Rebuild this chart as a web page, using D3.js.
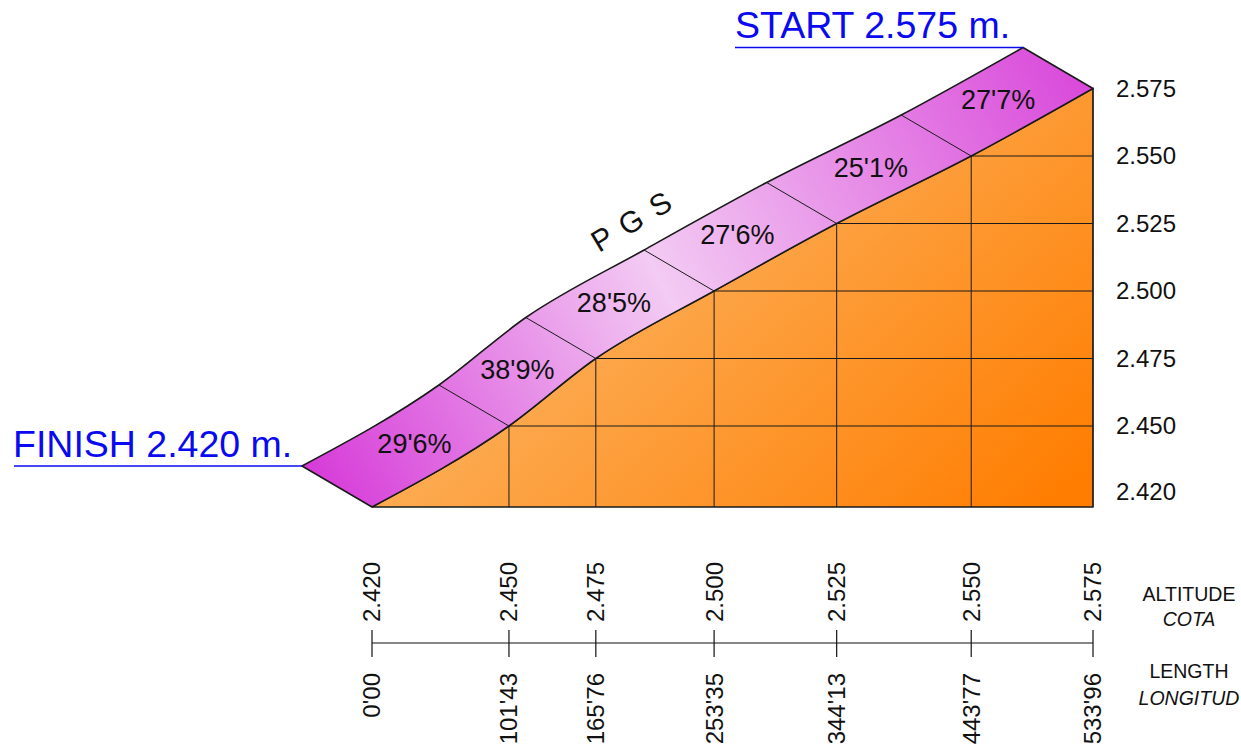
<!DOCTYPE html>
<html>
  <head>
    <meta charset="utf-8">
    <title>PGS slope profile</title>
    <style>
      body { margin: 0; background: #fff; }
      svg { font-family: "Liberation Sans", Arial, sans-serif; }
      .grid { stroke: #1a1a1a; stroke-width: 1px; }
      .blue { fill: #0a0af0; }
    </style>
  </head>
  <body>
    <svg width="1241" height="747"></svg>

    <script src="https://d3js.org/d3.v7.min.js"></script>
    <script>
      // Profile data
      const distances = [0, 101.43, 165.76, 253.35, 344.13, 443.77, 533.96];
      const altitudes = [2420, 2450, 2475, 2500, 2525, 2550, 2575];
      const distLabels = ["0'00", "101'43", "165'76", "253'35", "344'13", "443'77", "533'96"];
      const altLabels = ["2.420", "2.450", "2.475", "2.500", "2.525", "2.550", "2.575"];
      const gradeLabels = ["29'6%", "38'9%", "28'5%", "27'6%", "25'1%", "27'7%"];

      const svg = d3.select('svg');

      const x = d3.scaleLinear().domain([0, 533.96]).range([372, 1093]);
      const y = d3.scaleLinear().domain([2420, 2575]).range([507, 88.5]);

      // offset of the ribbon's upper edge (fake 3d depth)
      const dx = -70, dy = -41;

      const pts = distances.map((d, i) => [x(d), y(altitudes[i])]);
      const base = y(altitudes[0]);

      // gradients
      const defs = svg.append('defs');
      const og = defs.append('linearGradient').attr('id', 'orange')
        .attr('gradientUnits', 'userSpaceOnUse')
        .attr('x1', 560).attr('y1', 80).attr('x2', 1000).attr('y2', 560);
      og.append('stop').attr('offset', '0%').attr('stop-color', '#fbbd72');
      og.append('stop').attr('offset', '100%').attr('stop-color', '#ff7d00');

      const mg = defs.append('linearGradient').attr('id', 'pink')
        .attr('gradientUnits', 'userSpaceOnUse')
        .attr('x1', 302).attr('y1', 466).attr('x2', 1093).attr('y2', 47);
      mg.append('stop').attr('offset', '0%').attr('stop-color', '#d63ad8');
      mg.append('stop').attr('offset', '45%').attr('stop-color', '#f3cbf3');
      mg.append('stop').attr('offset', '100%').attr('stop-color', '#d843d9');

      const curve = d3.curveMonotoneX;

      // orange ground under the profile
      const area = d3.area().x(p => p[0]).y0(base).y1(p => p[1]).curve(curve);
      svg.append('path')
        .attr('d', area(pts))
        .attr('fill', 'url(#orange)')
        .attr('stroke', '#1a1a1a')
        .attr('stroke-width', 1.4);

      // grid inside the ground
      pts.forEach((p, i) => {
        if (i === 0) return;
        svg.append('line').attr('class', 'grid')
          .attr('x1', p[0]).attr('x2', p[0]).attr('y1', p[1]).attr('y2', base);
        svg.append('line').attr('class', 'grid')
          .attr('x1', p[0]).attr('x2', x(distances[distances.length - 1])).attr('y1', p[1]).attr('y2', p[1]);
      });

      // ribbon on top of profile
      const line = d3.line().curve(curve);
      const upper = pts.map(p => [p[0] + dx, p[1] + dy]).reverse();
      const ribbonD = line(pts) + 'L' + line(upper).slice(1) + 'Z';
      svg.append('path')
        .attr('d', ribbonD)
        .attr('fill', 'url(#pink)')
        .attr('stroke', '#1a1a1a')
        .attr('stroke-width', 1.6)
        .attr('stroke-linejoin', 'round');

      // segment dividers
      pts.slice(1, -1).forEach(p => {
        svg.append('line').attr('class', 'grid')
          .attr('x1', p[0]).attr('y1', p[1]).attr('x2', p[0] + dx).attr('y2', p[1] + dy);
      });

      // grade labels
      const nudge = [9, 0, -6, -3, 2, 1];
      gradeLabels.forEach((g, i) => {
        const cx = (pts[i][0] + pts[i + 1][0]) / 2 + dx / 2 + nudge[i];
        const cy = (pts[i][1] + pts[i + 1][1]) / 2 + dy / 2 - 2;
        svg.append('text')
          .attr('x', cx).attr('y', cy)
          .attr('dy', '0.35em')
          .attr('text-anchor', 'middle')
          .attr('font-size', 27)
          .attr('fill', '#111')
          .text(g);
      });

      // slope name
      svg.append('text')
        .attr('transform', 'translate(632,221) rotate(-31)')
        .attr('text-anchor', 'middle')
        .attr('dy', '0.35em')
        .attr('font-size', 30)
        .attr('letter-spacing', 2)
        .attr('fill', '#111')
        .text('P G S');

      // finish / start labels
      svg.append('text').attr('class', 'blue')
        .attr('x', 13).attr('y', 457).attr('font-size', 37.5)
        .text('FINISH 2.420 m.');
      svg.append('line')
        .attr('x1', 14).attr('x2', pts[0][0] + dx).attr('y1', pts[0][1] + dy).attr('y2', pts[0][1] + dy)
        .attr('stroke', '#0a0af0').attr('stroke-width', 1.5);

      const last = pts[pts.length - 1];
      svg.append('text').attr('class', 'blue')
        .attr('x', 735).attr('y', 38).attr('font-size', 37.5)
        .text('START 2.575 m.');
      svg.append('line')
        .attr('x1', 735).attr('x2', last[0] + dx).attr('y1', last[1] + dy).attr('y2', last[1] + dy)
        .attr('stroke', '#0a0af0').attr('stroke-width', 1.5);

      // right altitude labels
      altitudes.forEach((a, i) => {
        svg.append('text')
          .attr('x', 1116)
          .attr('y', y(a) - (i === 0 ? 15 : 0))
          .attr('dy', '0.35em')
          .attr('font-size', 24)
          .attr('fill', '#111')
          .text(altLabels[i]);
      });

      // bottom scale
      const axisY = 643;
      svg.append('line')
        .attr('x1', x(0)).attr('x2', x(533.96)).attr('y1', axisY).attr('y2', axisY)
        .attr('stroke', '#111').attr('stroke-width', 1.2);

      distances.forEach((d, i) => {
        const tx = x(d);
        svg.append('line')
          .attr('x1', tx).attr('x2', tx).attr('y1', axisY - 13).attr('y2', axisY + 14)
          .attr('stroke', '#111').attr('stroke-width', 1.2);
        svg.append('text')
          .attr('transform', `translate(${tx},622) rotate(-90)`)
          .attr('dy', '0.35em')
          .attr('font-size', 24)
          .attr('fill', '#111')
          .text(altLabels[i]);
        svg.append('text')
          .attr('transform', `translate(${tx},673) rotate(-90)`)
          .attr('text-anchor', 'end')
          .attr('dy', '0.35em')
          .attr('font-size', 24)
          .attr('fill', '#111')
          .text(distLabels[i]);
      });

      const legend = [
        { t: 'ALTITUDE', y: 601, it: false },
        { t: 'COTA', y: 626, it: true },
        { t: 'LENGTH', y: 678, it: false },
        { t: 'LONGITUD', y: 705, it: true }
      ];
      legend.forEach(l => {
        svg.append('text')
          .attr('x', 1189).attr('y', l.y)
          .attr('text-anchor', 'middle')
          .attr('font-size', 19.5)
          .attr('font-style', l.it ? 'italic' : 'normal')
          .attr('fill', '#111')
          .text(l.t);
      });
    </script>
  </body>
</html>
